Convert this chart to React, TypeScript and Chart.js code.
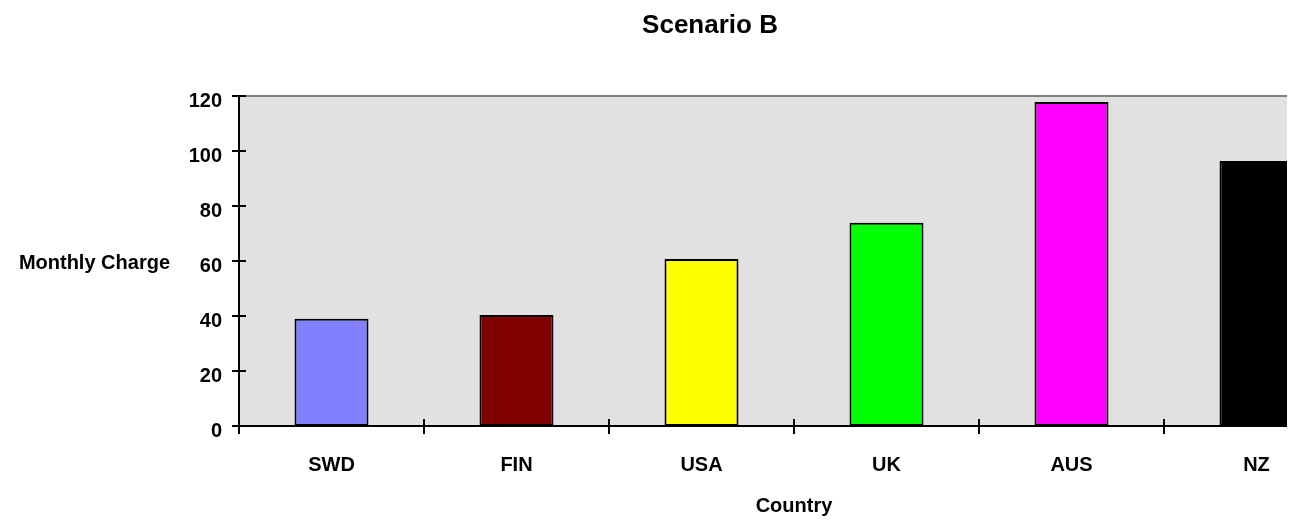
import React, { useEffect, useRef } from "react";
import { Chart, registerables } from "chart.js";

Chart.register(...registerables);

const TITLE = "Scenario B";
const X_TITLE = "Country";
const Y_TITLE = "Monthly Charge";
const categories = ["SWD", "FIN", "USA", "UK", "AUS", "NZ"];
const monthlyCharge = [39, 40.4, 60.7, 73.9, 117.8, 96.4];
const barColors = ["#8080FF", "#800000", "#FFFF00", "#00FF00", "#FF00FF", "#000000"];
const yMin = 0;
const yMax = 120;
const yStep = 20;

const FONT = '"Liberation Sans", Arial, Helvetica, sans-serif';

const decorPlugin = {
  id: "decor",
  beforeDatasetsDraw(chart: any) {
    const { ctx, chartArea } = chart;
    ctx.save();
    ctx.fillStyle = "#e1e1e1";
    ctx.fillRect(chartArea.left, chartArea.top, chartArea.right - chartArea.left, chartArea.bottom - chartArea.top);
    ctx.restore();
  },
  afterDatasetsDraw(chart: any) {
    const { ctx, chartArea } = chart;
    const yScale = chart.scales.y;
    const xScale = chart.scales.x;
    const L = chartArea.left;
    const R = chartArea.right;
    const B = chartArea.bottom;
    const T = yScale.getPixelForValue(yMax);
    ctx.save();
    // top gridline
    ctx.strokeStyle = "#808080";
    ctx.lineWidth = 2;
    ctx.beginPath();
    ctx.moveTo(L, T);
    ctx.lineTo(R, T);
    ctx.stroke();
    // axes
    ctx.strokeStyle = "#000000";
    ctx.lineWidth = 2;
    ctx.beginPath();
    ctx.moveTo(L, T);
    ctx.lineTo(L, B + 8);
    ctx.moveTo(L - 7, B);
    ctx.lineTo(R, B);
    ctx.stroke();
    // y tick marks
    ctx.beginPath();
    for (let v = yMin; v <= yMax; v += yStep) {
      const y = yScale.getPixelForValue(v);
      ctx.moveTo(L - 7, y);
      ctx.lineTo(L + 7, y);
    }
    // x tick marks at category boundaries
    const n = categories.length;
    const w = (xScale.right - xScale.left) / n;
    for (let i = 1; i <= n; i++) {
      const x = xScale.left + i * w;
      ctx.moveTo(x, B - 7);
      ctx.lineTo(x, B + 8);
    }
    ctx.stroke();
    // titles
    ctx.fillStyle = "#000000";
    ctx.font = `bold 26px ${FONT}`;
    ctx.textAlign = "center";
    ctx.textBaseline = "alphabetic";
    ctx.fillText(TITLE, chart.width / 2, 24.5);
    ctx.font = `bold 20px ${FONT}`;
    ctx.fillText(X_TITLE, (L + R) / 2, 504);
    ctx.textAlign = "right";
    ctx.fillText(Y_TITLE, 162, yScale.getPixelForValue(60) + 8);
    ctx.restore();
  },
};

export default function App() {
  const ref = useRef<HTMLCanvasElement>(null);
  useEffect(() => {
    if (!ref.current) return;
    const chart = new Chart(ref.current, {
      type: "bar",
      data: {
        labels: categories,
        datasets: [
          {
            label: Y_TITLE,
            data: monthlyCharge,
            backgroundColor: barColors,
            borderColor: "#000000",
            borderWidth: 2,
            borderSkipped: false,
            categoryPercentage: 1,
            barPercentage: 0.4,
          },
        ],
      },
      options: {
        responsive: false,
        animation: false,
        devicePixelRatio: 1,
        layout: { padding: { top: 88, right: 63, left: 0, bottom: 0 } },
        plugins: {
          legend: { display: false },
          title: { display: false },
          tooltip: { enabled: false },
        },
        scales: {
          x: {
            grid: { display: false, drawTicks: false },
            border: { display: false },
            ticks: {
              color: "#000000",
              font: { family: FONT, size: 20, weight: "bold" },
              padding: 27,
              maxRotation: 0,
              autoSkip: false,
            },
            afterFit: (s: any) => {
              s.height = 90;
            },
          },
          y: {
            min: yMin,
            max: yMax,
            grid: { display: false, drawTicks: false },
            border: { display: false },
            ticks: {
              stepSize: yStep,
              color: "#000000",
              font: { family: FONT, size: 20, weight: "bold" },
              padding: 17,
              labelOffset: 5,
            },
            afterFit: (s: any) => {
              s.width = 231;
            },
          },
        },
      },
      plugins: [decorPlugin],
    });
    return () => chart.destroy();
  }, []);
  return (
    <div style={{ width: 1279, height: 508, overflow: "hidden" }}>
      <canvas ref={ref} width={1404} height={508} style={{ display: "block", width: 1404, height: 508 }} />
    </div>
  );
}
